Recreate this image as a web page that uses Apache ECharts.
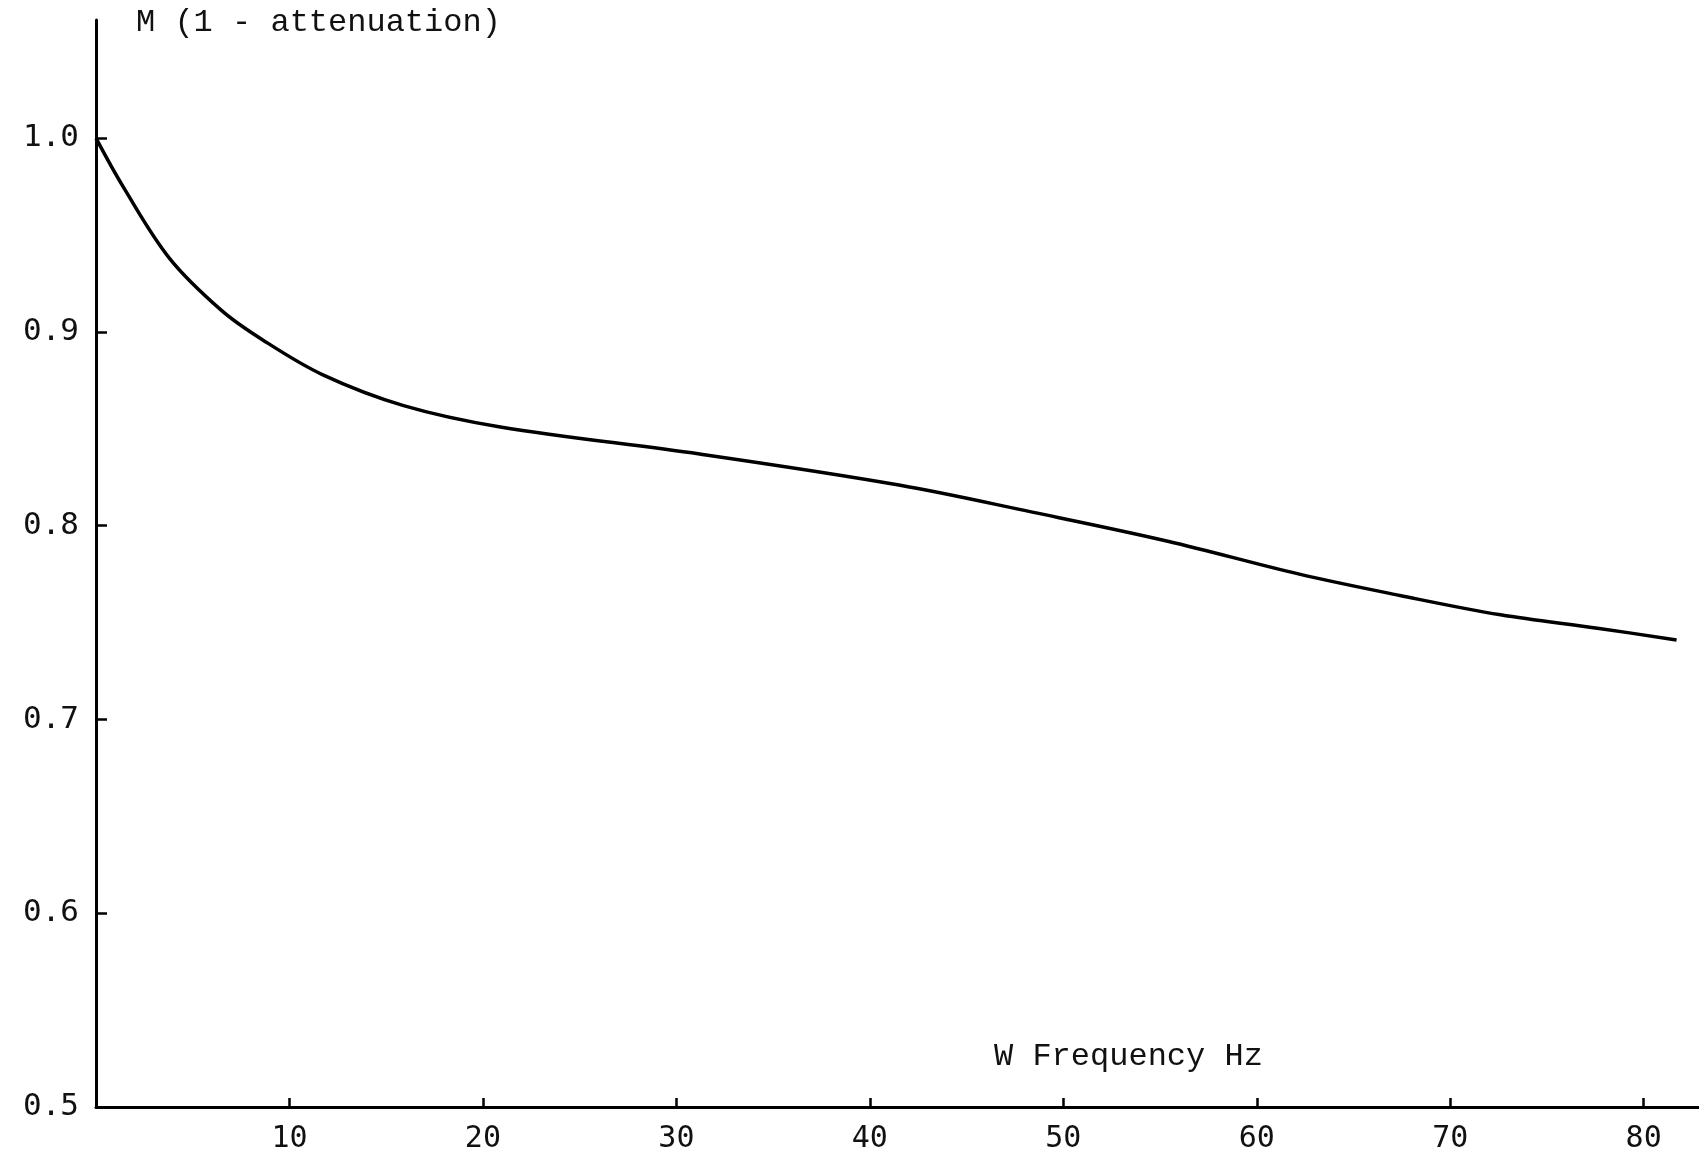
<!DOCTYPE html>
<html>
<head>
<meta charset="utf-8">
<title>M (1 - attenuation)</title>
<script src="https://cdn.jsdelivr.net/npm/echarts@6/dist/echarts.min.js"></script>
<style>
  html, body { margin: 0; padding: 0; background: #fff; }
  #chart { width: 1699px; height: 1158px; }
</style>
</head>
<body>
<div id="chart"></div>
<script>
// frequency (Hz) and M
var freq = [0, 1.4, 3.8, 6.5, 8.6, 11.7, 15.9, 20.9, 31.2, 41.5, 48.4, 55.4, 62.2, 67.4, 72.6, 77.7, 81.7];
var mValue = [1.0, 0.975, 0.938, 0.911, 0.896, 0.878, 0.862, 0.851, 0.837, 0.821, 0.807, 0.792, 0.775, 0.764, 0.754, 0.747, 0.741];
var xTicks = [10, 20, 30, 40, 50, 60, 70, 80];
var yTicks = [0.5, 0.6, 0.7, 0.8, 0.9, 1.0];

var yTitle = 'M (1 - attenuation)';
var xTitle = 'W Frequency Hz';

var chart = echarts.init(document.getElementById('chart'));

var pts = [];
for (var i = 0; i < freq.length; i++) {
  pts.push([freq[i], mValue[i]]);
}

var typeFont = '"Liberation Mono", "Courier New", monospace';
var numFont = '"DejaVu Sans Mono", monospace';

chart.setOption({
  backgroundColor: '#fff',
  animation: false,
  grid: { left: 96, right: 0, top: 20, bottom: 51 },
  xAxis: {
    type: 'value',
    min: 0,
    max: 82.86,
    interval: 10,
    axisLine: { lineStyle: { color: '#000', width: 3 } },
    axisTick: { inside: true, length: 9, lineStyle: { color: '#000', width: 2.5 } },
    splitLine: { show: false },
    axisLabel: {
      showMinLabel: false,
      showMaxLabel: false,
      margin: 17,
      color: '#111',
      fontFamily: numFont,
      fontSize: 30,
      formatter: function (v) { return xTicks.indexOf(v) >= 0 ? String(v) : ''; }
    }
  },
  yAxis: {
    type: 'value',
    min: 0.5,
    max: 1.061,
    interval: 0.1,
    axisLine: { show: true, lineStyle: { color: '#000', width: 3 } },
    axisTick: { show: true, inside: true, length: 11, lineStyle: { color: '#000', width: 2.5 } },
    splitLine: { show: false },
    axisLabel: {
      showMaxLabel: false,
      margin: 17,
      color: '#111',
      fontFamily: numFont,
      fontSize: 31,
      formatter: function (v) {
        for (var k = 0; k < yTicks.length; k++) {
          if (Math.abs(yTicks[k] - v) < 1e-6) return yTicks[k].toFixed(1);
        }
        return '';
      }
    }
  },
  graphic: [
    {
      type: 'text',
      left: 136,
      top: 7,
      style: { text: yTitle, font: '32px ' + typeFont, fill: '#111' }
    },
    {
      type: 'text',
      left: 994,
      top: 1041,
      style: { text: xTitle, font: '32px ' + typeFont, fill: '#111' }
    }
  ],
  series: [{
    type: 'line',
    data: pts,
    smooth: 0.35,
    showSymbol: false,
    lineStyle: { color: '#000', width: 3.5 }
  }]
});
</script>
</body>
</html>
